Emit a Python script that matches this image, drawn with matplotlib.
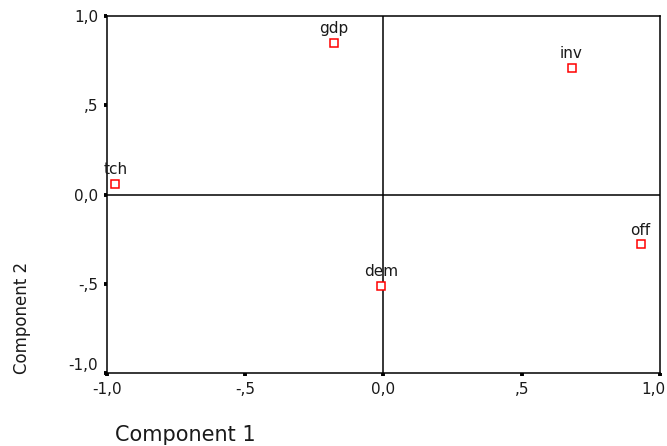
import matplotlib
matplotlib.use("Agg")
import matplotlib.pyplot as plt
import matplotlib.transforms as mtransforms
from matplotlib.ticker import FixedLocator

# ── Component loadings ───────────────────────────────────────────────────────

variables = ["gdp", "inv", "tch", "off", "dem"]
comp1 = [-0.18, 0.68, -0.97, 0.93, -0.01]
comp2 = [0.85, 0.71, 0.06, -0.28, -0.51]

tick_values = [-1.0, -0.5, 0.0, 0.5, 1.0]
tick_labels = ["-1,0", "-,5", "0,0", ",5", "1,0"]

# ── Plot ─────────────────────────────────────────────────────────────────────

plt.rcParams.update({"font.family": "DejaVu Sans", "font.size": 11})

fig = plt.figure(figsize=(6.67, 4.46), dpi=100)
ax = fig.add_axes([0.1604, 0.1637, 0.8291, 0.8004])

ax.set_xlim(-1, 1)
ax.set_ylim(-1, 1)

ax.axhline(0, color="black", linewidth=1.1, zorder=1)
ax.axvline(0, color="black", linewidth=1.1, zorder=1)

ax.plot(comp1, comp2, linestyle="none", marker="s", markersize=5.2,
        markerfacecolor="white", markeredgecolor="red", markeredgewidth=1.1,
        zorder=3)

for name, x, y in zip(variables, comp1, comp2):
    ax.annotate(name, (x, y), xytext=(0, 5), textcoords="offset points",
                ha="center", va="bottom", fontsize=11, color="#1a1a1a")

for side in ["top", "right", "bottom", "left"]:
    ax.spines[side].set_linewidth(1.1)
    ax.spines[side].set_color("black")

ax.xaxis.set_major_locator(FixedLocator(tick_values))
ax.yaxis.set_major_locator(FixedLocator(tick_values))
ax.set_xticklabels(tick_labels)
ax.set_yticklabels(tick_labels)
ax.tick_params(direction="out", length=2.5, width=2.8, color="black",
               labelsize=11, labelcolor="#1a1a1a", pad=4)
ax.get_yticklabels()[0].set_verticalalignment("bottom")

# last x tick label sits against the figure edge, nudge it in a bit
last = ax.get_xticklabels()[-1]
last.set_transform(last.get_transform()
                   + mtransforms.ScaledTranslation(-7 / 100, 0, fig.dpi_scale_trans))

ax.set_xlabel("Component 1", fontsize=15, color="#1a1a1a", va="center")
ax.xaxis.set_label_coords(0.141, -0.174)
ax.set_ylabel("Component 2", fontsize=12, color="#1a1a1a", va="center")
ax.yaxis.set_label_coords(-0.154, 0.154)

fig.savefig("out.png", dpi=100)
